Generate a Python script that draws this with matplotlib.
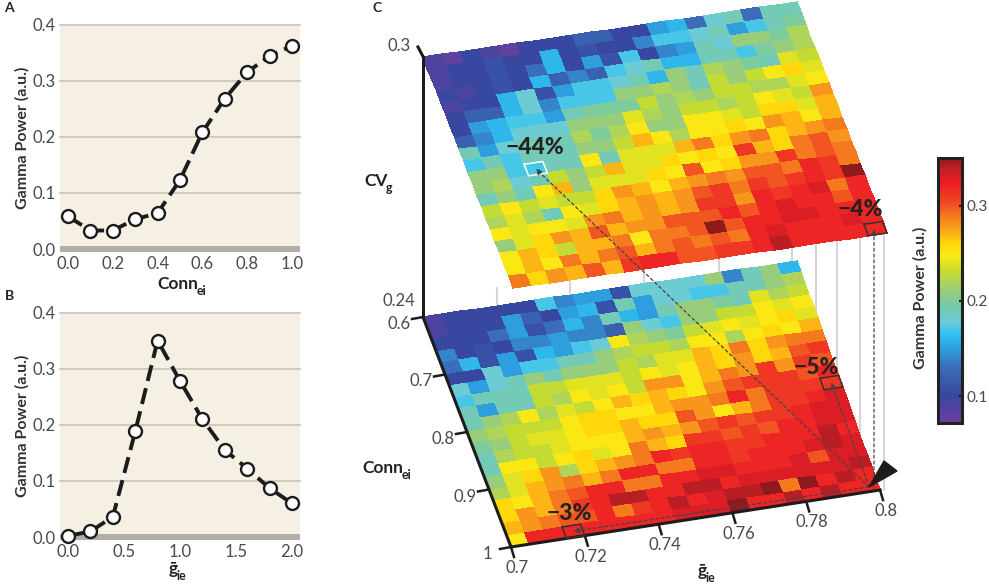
#!/usr/bin/env python3
import numpy as np
import matplotlib
matplotlib.use("Agg")
import matplotlib.pyplot as plt
from matplotlib.colors import LinearSegmentedColormap, Normalize
from matplotlib.cm import ScalarMappable

plt.rcParams["font.family"] = ["Lato", "Noto Sans", "DejaVu Sans"]

# panel A / B curves
conn_x = [0.0, 0.1, 0.2, 0.3, 0.4, 0.5, 0.6, 0.7, 0.8, 0.9, 1.0]
conn_y = [0.058, 0.033, 0.033, 0.053, 0.064, 0.123, 0.208, 0.268, 0.315, 0.344, 0.362]
gie_x = [0.0, 0.2, 0.4, 0.6, 0.8, 1.0, 1.2, 1.4, 1.6, 1.8, 2.0]
gie_y = [0.002, 0.010, 0.036, 0.188, 0.350, 0.278, 0.210, 0.155, 0.122, 0.087, 0.060]

# panel C, gamma power x100, rows run from Conn 0.6 to 1, columns from g 0.7 to 0.8
upper_map = [
    [9, 8, 10, 9, 8, 10, 10, 10, 12, 12, 10, 10, 15, 16, 13, 18, 19, 13, 19, 19],
    [9, 10, 10, 11, 10, 10, 16, 10, 11, 10, 10, 14, 17, 17, 18, 19, 15, 17, 19, 20],
    [9, 10, 10, 11, 10, 13, 16, 10, 15, 11, 17, 10, 14, 15, 19, 18, 21, 21, 20, 22],
    [10, 9, 10, 11, 10, 16, 12, 14, 12, 17, 18, 19, 16, 16, 19, 19, 17, 20, 21, 22],
    [9, 10, 10, 16, 18, 11, 15, 17, 17, 18, 19, 16, 21, 19, 22, 21, 20, 19, 24, 23],
    [10, 12, 12, 16, 18, 14, 17, 17, 17, 21, 21, 22, 21, 19, 23, 21, 23, 25, 26, 24],
    [10, 15, 16, 17, 17, 15, 19, 20, 20, 20, 23, 21, 22, 21, 23, 23, 22, 22, 24, 25],
    [12, 14, 16, 18, 18, 18, 21, 21, 21, 24, 22, 21, 23, 23, 22, 23, 25, 24, 23, 28],
    [19, 15, 18, 19, 19, 19, 22, 20, 22, 25, 21, 21, 25, 25, 24, 23, 26, 26, 24, 27],
    [17, 19, 17, 19, 19, 19, 21, 21, 23, 27, 25, 22, 25, 25, 26, 25, 28, 27, 25, 27],
    [21, 21, 17, 17, 19, 19, 25, 19, 24, 24, 24, 27, 29, 26, 28, 29, 26, 27, 28, 29],
    [21, 22, 18, 19, 23, 21, 23, 27, 24, 24, 26, 25, 26, 25, 31, 27, 26, 29, 30, 28],
    [19, 21, 19, 25, 27, 21, 24, 24, 24, 26, 25, 30, 25, 26, 28, 28, 31, 29, 30, 29],
    [23, 25, 23, 24, 23, 23, 26, 28, 27, 25, 27, 28, 29, 28, 30, 30, 29, 32, 31, 29],
    [22, 24, 22, 19, 25, 24, 26, 27, 28, 27, 28, 30, 31, 29, 31, 30, 31, 32, 31, 35],
    [25, 24, 25, 25, 24, 28, 29, 27, 28, 27, 28, 31, 31, 28, 32, 31, 32, 33, 29, 32],
    [21, 24, 26, 28, 27, 30, 27, 28, 28, 30, 30, 30, 32, 30, 32, 33, 32, 32, 30, 32],
    [25, 27, 26, 23, 27, 27, 29, 25, 29, 29, 30, 35, 30, 32, 32, 33, 33, 32, 32, 32],
    [25, 27, 25, 29, 27, 29, 30, 27, 29, 30, 29, 30, 29, 32, 33, 32, 32, 32, 33, 32],
    [29, 26, 28, 27, 30, 27, 31, 32, 32, 30, 30, 31, 31, 32, 34, 32, 32, 32, 32, 32],
]
lower_map = [
    [9, 10, 10, 10, 10, 10, 17, 14, 15, 15, 11, 18, 18, 18, 18, 21, 14, 19, 21, 16],
    [9, 10, 10, 10, 15, 12, 10, 15, 16, 11, 19, 15, 18, 18, 17, 17, 19, 19, 21, 22],
    [10, 10, 10, 13, 15, 11, 13, 16, 14, 19, 16, 15, 19, 21, 21, 20, 19, 24, 22, 23],
    [14, 10, 11, 10, 14, 14, 15, 14, 14, 12, 21, 18, 17, 21, 21, 23, 23, 25, 24, 25],
    [13, 16, 11, 15, 11, 16, 15, 17, 18, 25, 22, 21, 20, 23, 24, 25, 24, 25, 26, 24],
    [10, 10, 18, 15, 17, 17, 19, 19, 21, 22, 23, 23, 22, 25, 25, 22, 25, 26, 25, 27],
    [18, 15, 18, 19, 21, 19, 21, 21, 21, 23, 22, 24, 24, 27, 26, 29, 26, 28, 29, 29],
    [17, 19, 19, 19, 23, 23, 24, 24, 24, 23, 25, 24, 25, 27, 26, 28, 26, 27, 30, 31],
    [19, 15, 19, 19, 23, 22, 25, 24, 25, 23, 28, 28, 25, 27, 29, 28, 31, 28, 31, 30],
    [19, 21, 22, 25, 22, 24, 23, 25, 27, 26, 27, 26, 25, 28, 30, 31, 31, 31, 30, 32],
    [21, 22, 23, 23, 23, 25, 26, 26, 25, 25, 27, 28, 28, 29, 32, 29, 31, 31, 31, 31],
    [20, 21, 23, 24, 24, 25, 26, 26, 27, 26, 26, 30, 28, 25, 27, 29, 31, 31, 32, 33],
    [19, 22, 23, 23, 24, 25, 25, 25, 27, 28, 27, 28, 30, 31, 30, 31, 31, 32, 33, 33],
    [19, 25, 25, 23, 25, 26, 24, 25, 29, 27, 26, 31, 31, 30, 31, 30, 32, 32, 33, 33],
    [21, 24, 26, 28, 22, 26, 27, 28, 29, 32, 31, 32, 32, 31, 31, 32, 32, 32, 34, 32],
    [22, 24, 27, 28, 29, 27, 29, 32, 32, 29, 29, 32, 32, 31, 32, 32, 32, 33, 34, 33],
    [26, 25, 27, 29, 30, 32, 32, 29, 29, 32, 32, 33, 33, 32, 32, 32, 33, 30, 33, 33],
    [26, 28, 27, 29, 31, 32, 34, 34, 32, 32, 34, 34, 32, 33, 33, 33, 33, 33, 33, 34],
    [27, 28, 29, 30, 30, 32, 29, 31, 32, 34, 32, 33, 34, 34, 36, 29, 35, 32, 34, 32],
    [25, 32, 32, 32, 32, 32, 32, 32, 32, 33, 33, 33, 35, 32, 32, 34, 32, 34, 32, 32],
]

conn_ticks = ["0.6", "0.7", "0.8", "0.9", "1"]
gie_ticks = ["0.7", "0.72", "0.74", "0.76", "0.78", "0.8"]

INK = "#1c1c1c"
TXT = "#4a4a4a"

vmin, vmax = 0.072, 0.35
stops = [(0.072, "#6e3f9e"), (0.10, "#37479f"), (0.13, "#3b6db8"), (0.15, "#2f9fe0"),
         (0.165, "#2fc2f2"), (0.178, "#6ccbd8"), (0.195, "#74c9a8"), (0.215, "#a2d06e"),
         (0.232, "#c8dc2c"), (0.248, "#fbe914"), (0.262, "#ffd50a"), (0.275, "#faa41a"),
         (0.29, "#f5791f"), (0.305, "#ef4423"), (0.325, "#ec1c24"), (0.338, "#c21f26"),
         (0.35, "#8f1a1e")]
cmap = LinearSegmentedColormap.from_list(
    "gamma", [((v - vmin) / (vmax - vmin), c) for v, c in stops])
norm = Normalize(vmin, vmax)

fig = plt.figure(figsize=(9.89, 5.86), dpi=100)


def px_axes(left, top, right, bottom):
    return fig.add_axes([left / 989, 1 - bottom / 586, (right - left) / 989, (bottom - top) / 586])


def curve_panel(top, bottom, x, y, xlim, xticks):
    ax = px_axes(60, top, 300, bottom)
    ax.set_facecolor("#f6f0e4")
    ax.set_xlim(*xlim)
    ax.set_ylim(-0.0053, 0.4)
    for s in ax.spines.values():
        s.set_visible(False)
    ax.axhspan(-0.0053, 0.0053, color="#b3aea5", lw=0, zorder=1)
    for v in [0.1, 0.2, 0.3, 0.4]:
        ax.axhline(v, color="#c9c1b0", lw=1.1, zorder=1, clip_on=False)
    ax.plot(x, y, color=INK, lw=2.8, dashes=(4.2, 1.9), zorder=2, clip_on=False)
    ax.plot(x, y, ls="none", marker="o", ms=9.3, mfc="white", mec=INK, mew=1.7, zorder=3, clip_on=False)
    ax.set_xticks(xticks)
    ax.set_xticklabels([f"{t:.1f}" for t in xticks])
    ax.set_yticks([0, 0.1, 0.2, 0.3, 0.4])
    ax.set_yticklabels(["0.0", "0.1", "0.2", "0.3", "0.4"])
    ax.tick_params(length=0, labelsize=12, labelcolor=TXT, pad=3)
    ax.set_ylabel("Gamma Power (a.u.)", fontsize=11.5, fontweight="bold", color="#333333", labelpad=2)
    return ax


curve_panel(24.5, 252, conn_x, conn_y, (-0.036, 1.036), [0, 0.2, 0.4, 0.6, 0.8, 1.0])
curve_panel(312.5, 540, gie_x, gie_y, (-0.072, 2.072), [0, 0.5, 1.0, 1.5, 2.0])

# overlay in pixel coordinates for panel C and all free text
ov = fig.add_axes([0, 0, 1, 1], zorder=5)
ov.set_xlim(0, 989)
ov.set_ylim(586, 0)
ov.axis("off")
ov.patch.set_alpha(0)

up_c = dict(tl=(423, 57), tr=(797, 2), br=(887, 233), bl=(513, 288))
lo_c = dict(tl=(423, 317), tr=(797, 261), br=(880, 490), bl=(511, 547))


def plane(c, r, col):
    # r, col in cell units (0..20), bilinear between the four corners
    u, v = np.asarray(col) / 20.0, np.asarray(r) / 20.0
    x = (1 - v) * ((1 - u) * c["tl"][0] + u * c["tr"][0]) + v * ((1 - u) * c["bl"][0] + u * c["br"][0])
    y = (1 - v) * ((1 - u) * c["tl"][1] + u * c["tr"][1]) + v * ((1 - u) * c["bl"][1] + u * c["br"][1])
    return x, y


def draw_map(c, values, z):
    values = np.array(values) / 100.0
    rr, cc = np.meshgrid(np.arange(21), np.arange(21), indexing="ij")
    X, Y = plane(c, rr, cc)
    ov.pcolormesh(X, Y, values, cmap=cmap, norm=norm, edgecolors="face", linewidth=0.2, zorder=z)


def cell_box(c, r, col, color, z=7):
    xs, ys = plane(c, [r, r, r + 1, r + 1, r], [col, col + 1, col + 1, col, col])
    ov.plot(xs, ys, color=color, lw=1.1, zorder=z)
    return plane(c, r + 0.5, col + 0.5)


# grey droplines between the two planes
for gx in [497, 570, 644, 719, 792, 816, 837, 860, 884]:
    top_y = np.interp(gx, [513, 887], [288, 233])
    bot_y = np.interp(gx, [797, 880], [261, 490]) if gx > 797 else 400
    ov.plot([gx, gx], [top_y, bot_y], color="#d6d6d6", lw=1.5, zorder=1)

draw_map(up_c, upper_map, 2)
draw_map(lo_c, lower_map, 2)

# axis lines
ov.fill([421.8, 424.8, 424.8, 421.8], [56, 56, 318, 318], color=INK, lw=0, zorder=6)
ov.plot([418, 423.3], [47, 57], color=INK, lw=2.2, zorder=6)
ov.plot([423, 511, 880], [317, 547, 490], color=INK, lw=2.2, zorder=6, solid_joinstyle="miter")

for i, lab in enumerate(conn_ticks):
    x, y = plane(lo_c, i * 5, 0)
    ov.plot([x - 11, x], [y + 2, y], color=INK, lw=1.8, zorder=6)
    ov.text(x - 24, y + 7, lab, fontsize=12, color=TXT, ha="center", va="center")
for i, lab in enumerate(gie_ticks):
    x, y = plane(lo_c, 20, i * 4)
    ov.plot([x, x + 3], [y, y + 10], color=INK, lw=1.8, zorder=6)
    ov.text(x + 6, y + 21, lab, fontsize=12, color=TXT, ha="center", va="center")
ov.text(399, 46, "0.3", fontsize=12, color=TXT, ha="center", va="center")
ov.text(399, 301, "0.24", fontsize=12, color=TXT, ha="center", va="center")


def sub_label(x, y, main, sub):
    t = ov.text(x, y, main, fontsize=12.5, fontweight="bold", color="#222222", ha="left", va="baseline")
    ov.annotate(sub, xy=(1, 0), xycoords=t, xytext=(-1, -2), textcoords="offset points",
                fontsize=9, fontweight="bold", color="#222222", ha="left", va="baseline")


sub_label(364, 186, "CV", "g")
sub_label(362, 473, "Conn", "ei")
sub_label(698, 576, "ḡ", "ie")
sub_label(157, 289, "Conn", "ei")
sub_label(169, 574, "ḡ", "ie")

for x, y, lab in [(9, 8, "A"), (9, 296, "B"), (377, 8, "C")]:
    ov.text(x, y, lab, fontsize=10, fontweight="bold", color="#222222", ha="center", va="center")

# highlighted cells, percent labels and dashed arrows
apex = (869, 487)
box_44 = cell_box(up_c, 10, 3, "white")
box_4 = cell_box(up_c, 19, 19, "#333333")
box_5 = cell_box(lo_c, 10, 19, "#333333")
box_3 = cell_box(lo_c, 19, 3, "#333333")
for tip, start in [(box_44, apex), (box_5, apex), (box_3, apex), ((874, 229), (874, 487))]:
    ov.annotate("", xy=tip, xytext=start, zorder=8,
                arrowprops=dict(arrowstyle="-|>,head_width=0.18,head_length=0.35", color="#444444",
                                lw=0.9, ls=(0, (2.4, 2.2)), shrinkA=0, shrinkB=0))
for x, y, lab in [(535, 148, "−44%"), (860, 209, "−4%"), (816, 367, "−5%"), (569, 513, "−3%")]:
    ov.text(x, y, lab, fontsize=16.5, fontweight="black", color="#222222", ha="center", va="center", zorder=9)
ov.fill([869, 884, 897], [487, 461, 471], color=INK, zorder=9)

# colorbar
cax = px_axes(938, 158, 962, 423)
cb = fig.colorbar(ScalarMappable(norm=norm, cmap=cmap), cax=cax)
cb.set_ticks([0.1, 0.2, 0.3])
cb.ax.tick_params(direction="in", length=2.5, width=1.5, color=INK, labelsize=11, labelcolor=TXT, pad=3)
cb.outline.set_edgecolor("#222222")
cb.outline.set_linewidth(2.2)
ov.text(920, 298, "Gamma Power (a.u.)", fontsize=11.5, fontweight="bold", color="#333333",
        rotation=90, ha="center", va="center")

fig.savefig("out.png", dpi=100)
